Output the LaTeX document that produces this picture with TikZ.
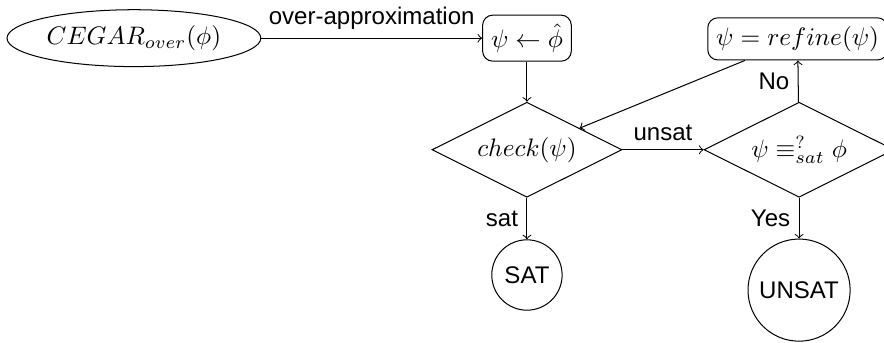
\documentclass[tikz,border=0pt]{standalone}
\usepackage{fontspec}
\newfontfamily\helv{Liberation Sans}[Scale=0.95]
\usetikzlibrary{shapes.geometric}
\begin{document}
\begin{tikzpicture}[>=to, font=\helv,
  box/.style={draw, rounded corners},
  test/.style={draw, diamond, aspect=2, inner sep=1pt, minimum width=2.64cm, minimum height=1.32cm},
  final/.style={draw, circle}]
\useasboundingbox (0,0) rectangle (12.28,-4.76);
\node[draw, ellipse, inner sep=1pt, minimum width=3.5cm, minimum height=0.79cm] (cegar) at (1.86,-0.53) {$CEGAR_{over}(\phi)$};
\node[box] (init) at (7.32,-0.53) {$\psi \leftarrow \hat{\phi}$};
\node[box] (refine) at (11.08,-0.54) {$\psi = refine(\psi)$};
\node[test] (check) at (7.32,-2.08) {$check(\psi)$};
\node[test] (equiv) at (11.10,-2.08) {$\psi \equiv^?_{sat} \phi$};
\node[final] (sat) at (7.32,-3.82) {SAT};
\node[final] (unsat) at (11.10,-4.03) {UNSAT};

\draw[->] (cegar) -- (init) node[midway, above]{over-approximation};
\draw[->] (init) -- (check);
\draw[->] (check) -- (equiv) node[midway, above]{unsat};
\draw[->] (check) -- (sat) node[midway, left]{sat};
\draw[->] (equiv) -- (refine) node[midway, left]{No};
\draw[->] (equiv) -- (unsat) node[midway, left]{Yes};
\draw[->] (refine) -- (check);
\end{tikzpicture}
\end{document}
